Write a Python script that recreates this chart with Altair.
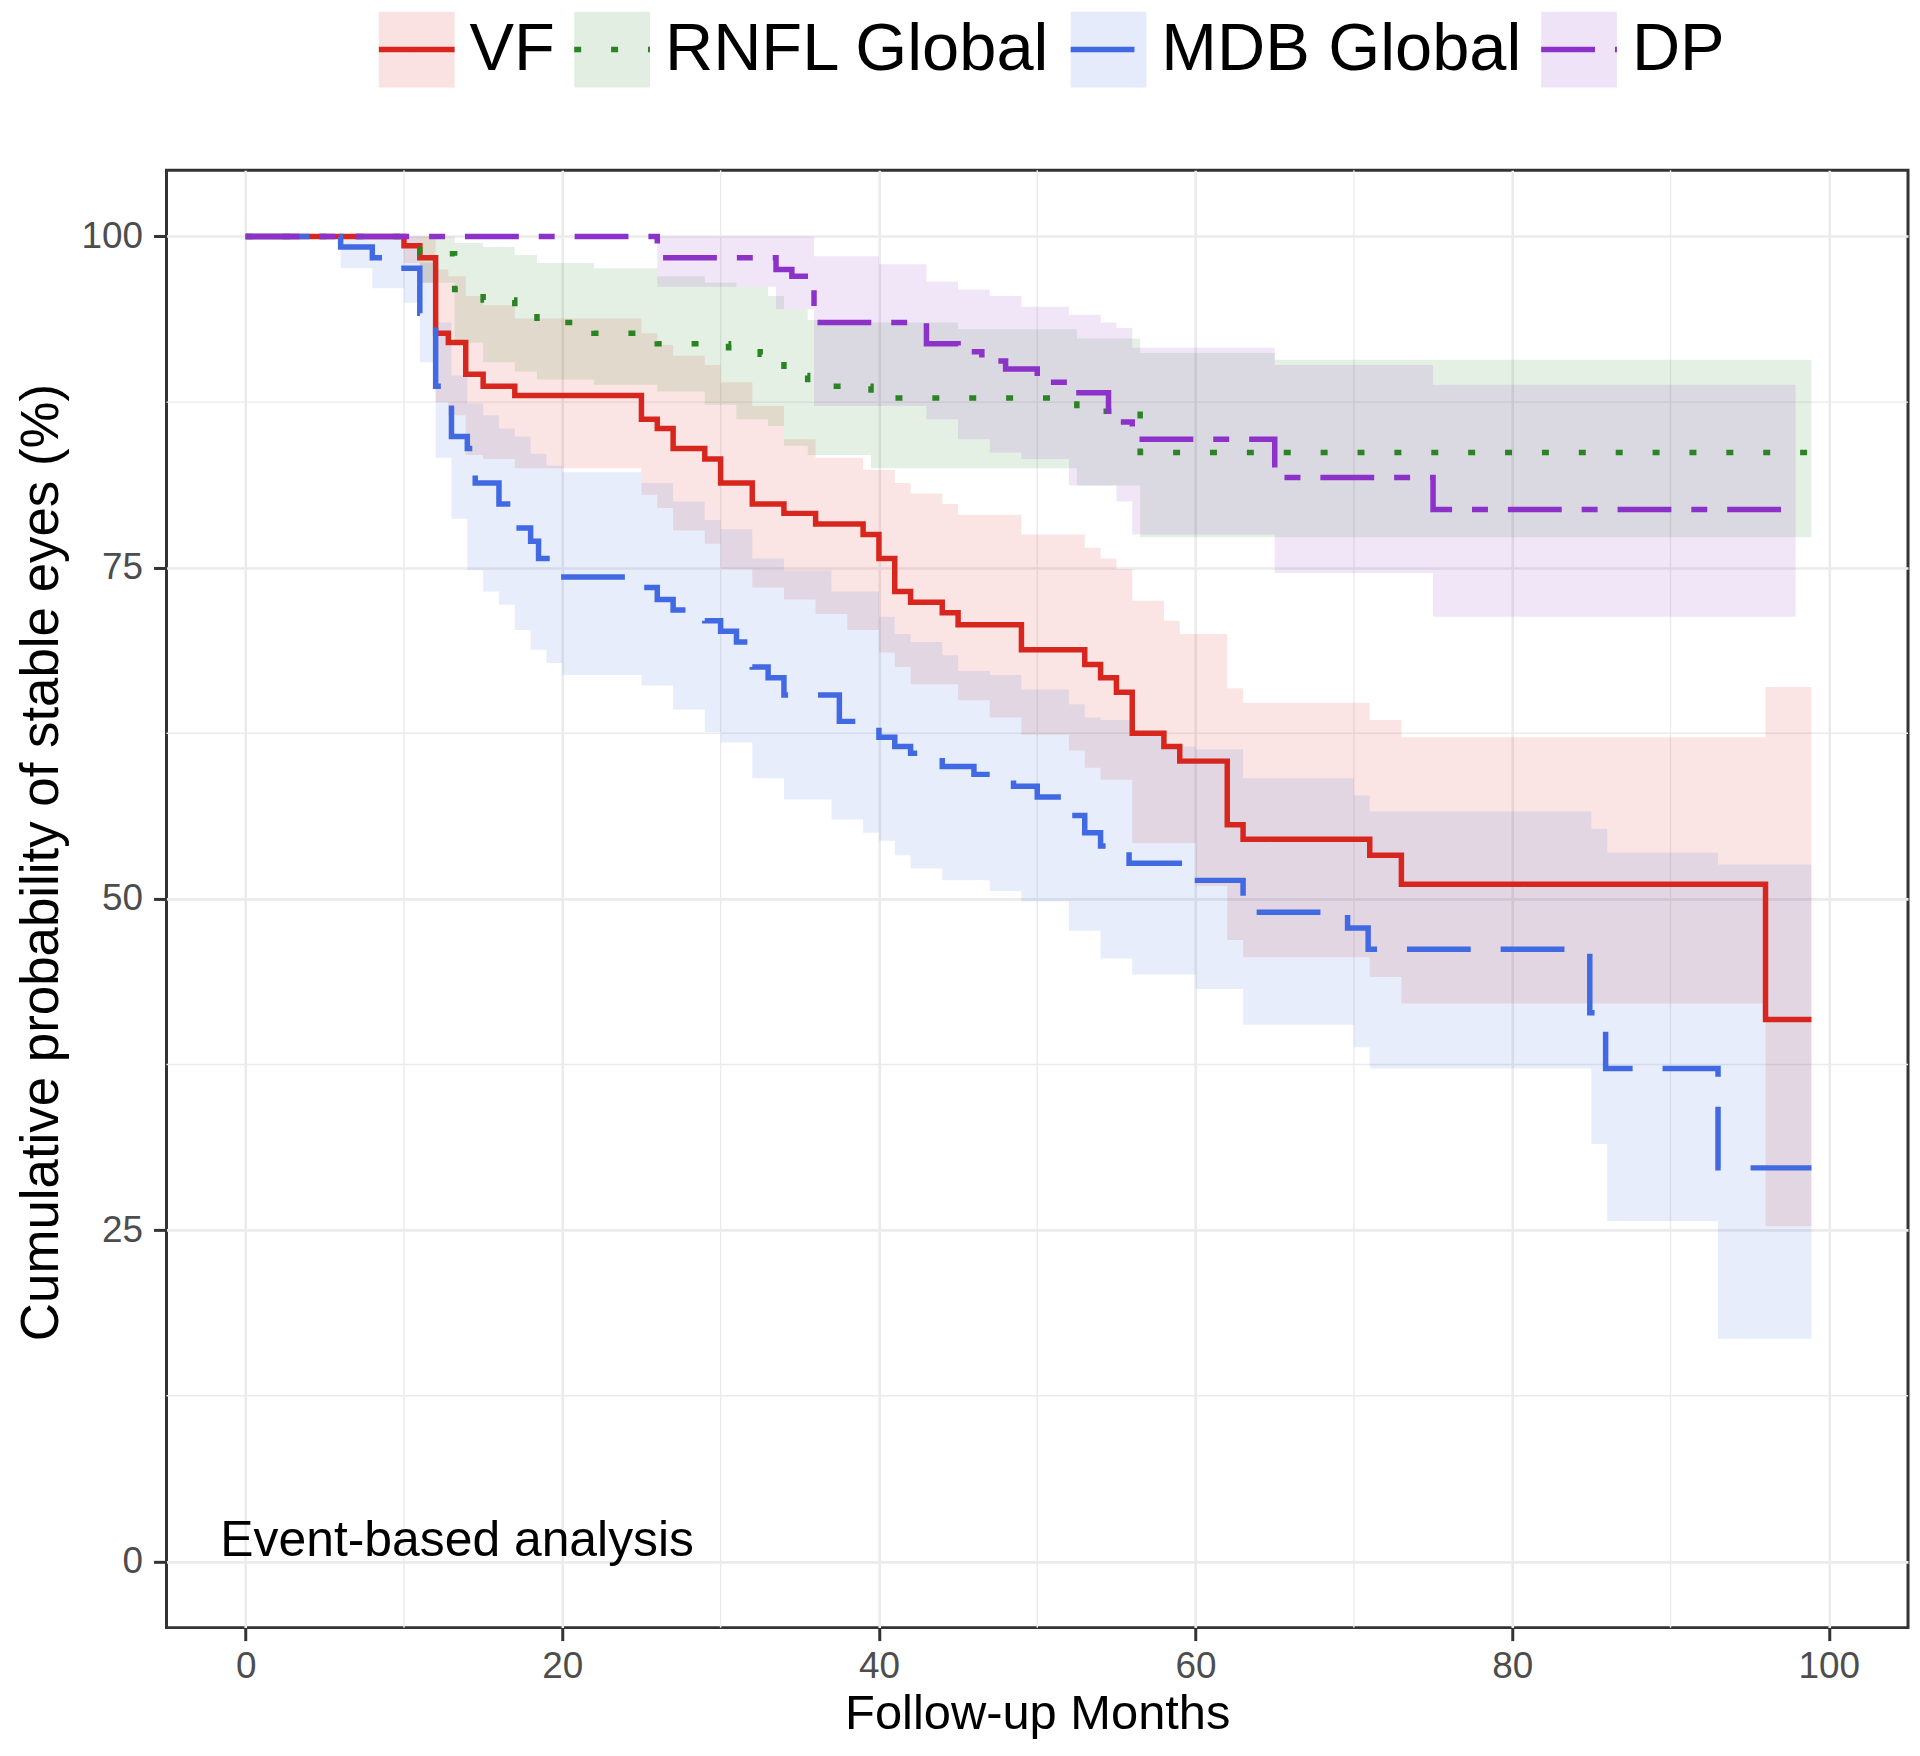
import altair as alt
import pandas as pd

# ---------------- data ----------------
series_names = ["VF", "RNFL Global", "MDB Global", "DP"]
line_colors = ["#D7261E", "#2A8423", "#4169E1", "#8C32C8"]
dash_patterns = [[1, 0], [7, 30], [64, 30], [54, 20, 16, 20]]

# VF (Kaplan-Meier step curve)
vf_x = [0, 10, 11, 12, 12.8, 13.9, 15, 17, 25, 26, 27, 29, 30, 32, 34, 36, 39, 40, 41, 42,
        44, 45, 49, 53, 54, 55, 56, 58, 59, 62, 63, 71, 73, 96, 98.9]
vf_y = [100, 99.3, 98.4, 92.7, 92.0, 89.6, 88.7, 88.0, 86.2, 85.5, 84.0, 83.2, 81.4, 79.8, 79.1,
        78.3, 77.5, 75.7, 73.2, 72.4, 71.6, 70.7, 68.8, 67.7, 66.7, 65.6, 62.5, 61.5, 60.4, 55.6,
        54.5, 53.3, 51.1, 40.9, 40.9]
vfb_x = [0, 10, 11, 12, 12.8, 13.9, 15, 17, 25, 26, 27, 29, 30, 32, 34, 36, 38, 39, 40, 41,
         42, 44, 45, 47, 49, 52, 53, 54, 55, 56, 58, 59, 60, 62, 63, 71, 73, 96, 98.9]
vfb_lo = [100, 98, 96.5, 87.5, 86.5, 83.5, 83.2, 82.5, 80.5, 79.5, 77.8, 76.8, 74.9, 73.5, 72.6,
          71.5, 70.3, 70.3, 68.6, 67.5, 66.2, 66.2, 65.0, 63.7, 62.4, 61.2, 59.9, 59.0, 59.0, 54.2,
          54.2, 54.2, 51.0, 46.9, 45.6, 44.1, 42.1, 25.3, 25.3]
vfb_hi = [100, 100, 100, 97.5, 97.0, 95.5, 94.8, 93.8, 92.7, 91.8, 91.0, 90.3, 89.0, 87.2, 84.7,
          83.3, 83.3, 82.4, 82.4, 81.4, 80.6, 79.8, 79.0, 79.0, 77.5, 77.5, 76.5, 75.7, 74.9, 72.5,
          71.0, 70.0, 70.0, 65.9, 64.8, 63.5, 62.2, 66.0, 66.0]

# RNFL Global
rn_x = [0, 11, 13.2, 15, 17, 18.4, 22, 26, 30.5, 32.5, 34, 35.5, 39.5, 52.5, 56.5, 98.9]
rn_y = [100, 98.7, 96.0, 95.2, 94.5, 93.5, 92.7, 91.9, 91.6, 91.1, 89.5, 88.7, 87.8, 86.8, 83.7, 83.7]
rnb_x = [0, 11, 13.2, 15, 17, 18.4, 22, 26, 29, 31, 33, 34, 35.5, 39.5, 45, 52.5, 56.5, 65, 98.9]
rnb_lo = [100, 96.5, 92.0, 90.5, 89.8, 89.2, 88.8, 88.3, 87.3, 86.2, 85.7, 84.2, 83.5, 82.5, 82.5,
          81.2, 77.3, 77.3, 77.3]
rnb_hi = [100, 100, 99.5, 99.2, 98.6, 98.0, 97.6, 97.0, 96.5, 96.2, 95.5, 94.5, 93.7, 93.5, 93.0,
          92.3, 91.2, 90.7, 90.7]

# MDB Global
mdb_x = [0, 6, 8, 10, 11, 12, 13, 14, 14.5, 16, 17, 18, 18.5, 19.8, 25, 26, 27, 29, 30, 31,
         32, 33, 34, 37.5, 40, 41, 42, 44, 46, 48.5, 50, 52, 53, 54, 55.8, 59.8, 63, 69.6, 70.9,
         84.9, 85.9, 93, 98.9]
mdb_y = [100, 99.2, 98.4, 97.6, 94.2, 88.7, 84.9, 84.0, 81.4, 79.8, 78.0, 77.0, 75.7, 74.3, 73.5,
         72.6, 71.8, 71.0, 70.2, 69.4, 67.5, 66.7, 65.4, 63.4, 62.2, 61.5, 61.0, 60.0, 59.4, 58.5,
         57.7, 56.3, 55.0, 54.0, 52.7, 51.4, 49.0, 47.8, 46.2, 41.4, 37.2, 29.7, 29.7]
mdbb_x = [0, 6, 8, 10, 11, 12, 13, 14, 15, 16, 17, 18, 19, 20, 25, 27, 29, 30, 32, 34,
          37, 39, 40, 41, 42, 44, 45, 47, 49, 52, 53, 54, 56, 58, 60, 63, 70, 71, 85, 86, 93, 98.9]
mdbb_lo = [100, 97.6, 96.1, 95.0, 90.5, 83.3, 78.7, 74.8, 73.2, 72.2, 70.3, 68.8, 67.8, 66.9, 66.1,
           64.3, 62.6, 61.8, 59.1, 57.5, 56.0, 55.0, 54.4, 53.3, 52.3, 51.4, 51.4, 50.6, 49.8, 47.6,
           47.6, 45.5, 44.3, 44.3, 43.2, 40.5, 38.8, 37.2, 31.5, 25.7, 16.8, 16.8]
mdbb_hi = [100, 100, 100, 100, 98.0, 93.5, 89.5, 87.4, 86.5, 85.5, 84.9, 83.6, 82.7, 82.2, 81.4,
           80.0, 78.6, 77.9, 75.7, 74.8, 73.2, 73.2, 71.3, 70.0, 69.4, 68.4, 67.2, 66.9, 65.8, 64.7,
           63.7, 63.5, 62.6, 61.5, 61.3, 59.1, 57.8, 56.6, 55.3, 53.5, 52.6, 52.6]

# DP
dp_x = [0, 26, 33.5, 34.5, 35.9, 43, 45, 46.5, 48, 50, 52, 54.5, 55, 56, 65, 75, 97.9]
dp_y = [100, 98.4, 97.5, 97.0, 93.5, 91.9, 91.3, 90.6, 90.0, 89.0, 88.2, 86.8, 86.0, 84.7, 81.8,
        79.4, 79.4]
dpb_x = [0, 26, 33.5, 35.9, 40, 43, 45, 47, 49, 52, 54, 55, 56, 65, 75, 97.9]
dpb_lo = [100, 96.2, 94.5, 87.2, 87.2, 86.2, 84.7, 83.7, 83.2, 81.2, 81.2, 80.0, 77.5, 74.6, 71.3, 71.3]
dpb_hi = [100, 100, 100, 98.5, 97.9, 96.6, 96.0, 95.5, 94.7, 94.1, 93.5, 93.1, 91.6, 90.3, 88.8, 88.8]

x_ticks = [0, 20, 40, 60, 80, 100]
y_ticks = [0, 25, 50, 75, 100]
x_minor = [10, 30, 50, 70, 90]
y_minor = [12.5, 37.5, 62.5, 87.5]

annot_text = "Event-based analysis"
annot_x = -1.6
annot_y = 0.4

# ---------------- tables ----------------
curves = [(series_names[0], vf_x, vf_y), (series_names[1], rn_x, rn_y),
          (series_names[2], mdb_x, mdb_y), (series_names[3], dp_x, dp_y)]
bands = [(series_names[0], vfb_x, vfb_lo, vfb_hi), (series_names[1], rnb_x, rnb_lo, rnb_hi),
         (series_names[2], mdbb_x, mdbb_lo, mdbb_hi), (series_names[3], dpb_x, dpb_lo, dpb_hi)]

lines_df = pd.concat([pd.DataFrame({"series": n, "month": xs, "surv": ys}) for n, xs, ys in curves],
                     ignore_index=True)
bands_df = pd.concat([pd.DataFrame({"series": n, "month": xs, "lo": lo, "hi": hi})
                      for n, xs, lo, hi in bands], ignore_index=True)
ann_df = pd.DataFrame({"month": [annot_x], "surv": [annot_y], "label": [annot_text]})
xminor_df = pd.DataFrame({"month": x_minor})
yminor_df = pd.DataFrame({"surv": y_minor})

FONT = "Liberation Sans"
x_scale = alt.Scale(domain=[-5, 105], nice=False, zero=False)
y_scale = alt.Scale(domain=[-5, 105], nice=False, zero=False)

x_axis = alt.Axis(values=x_ticks, format="d", title="Follow-up Months", grid=True,
                  gridColor="#EBEBEB", gridWidth=2.6, domain=False, tickSize=13, tickWidth=3,
                  tickColor="#333333", labelFontSize=37, labelColor="#4D4D4D", labelPadding=8,
                  labelFont=FONT, titleFont=FONT, titleFontSize=49, titleFontWeight="normal",
                  titleColor="black", titleY=101, titleBaseline="alphabetic", labelFlush=False)
y_axis = alt.Axis(values=y_ticks, format="d", title="Cumulative probability of stable eyes (%)",
                  grid=True, gridColor="#EBEBEB", gridWidth=2.6, domain=False, tickSize=13,
                  tickWidth=3, tickColor="#333333", labelFontSize=37, labelColor="#4D4D4D",
                  labelPadding=11, labelFont=FONT, titleFont=FONT, titleFontSize=53,
                  titleFontWeight="normal", titleColor="black", titleAngle=270,
                  titleX=-109, titleY=694, titleBaseline="alphabetic", titleAlign="center",
                  labelFlush=False)

LEG_X = 210
LEG_Y = -162
common_leg = dict(title=None, orient="none", legendX=LEG_X, legendY=LEG_Y, direction="horizontal",
                  symbolSize=5776, symbolStrokeWidth=5.5, labelFontSize=67, labelFont=FONT,
                  labelColor="black", labelOffset=12, columnPadding=8, labelLimit=800, padding=0)
fill_legend = alt.Legend(symbolType="square", symbolOpacity=0.13,
                         symbolStrokeColor="transparent", **common_leg)
line_legend = alt.Legend(symbolType="stroke", labelOpacity=0, **common_leg)

minor_x = alt.Chart(xminor_df).mark_rule(color="#EBEBEB", strokeWidth=1.4).encode(
    x=alt.X("month:Q", scale=x_scale, axis=x_axis))
minor_y = alt.Chart(yminor_df).mark_rule(color="#EBEBEB", strokeWidth=1.4).encode(
    y=alt.Y("surv:Q", scale=y_scale, axis=y_axis))

band_layer = alt.Chart(bands_df).mark_area(interpolate="step-after", fillOpacity=0.12,
                                           strokeWidth=0).encode(
    x=alt.X("month:Q", scale=x_scale, axis=x_axis),
    y=alt.Y("lo:Q", scale=y_scale, axis=y_axis),
    y2="hi:Q",
    fill=alt.Fill("series:N", scale=alt.Scale(domain=series_names, range=line_colors),
                  legend=fill_legend),
)

line_layer = alt.Chart(lines_df).mark_line(interpolate="step-after", strokeWidth=5.5,
                                           strokeCap="butt").encode(
    x=alt.X("month:Q", scale=x_scale, axis=x_axis),
    y=alt.Y("surv:Q", scale=y_scale, axis=y_axis),
    stroke=alt.Stroke("series:N", scale=alt.Scale(domain=series_names, range=line_colors),
                      legend=line_legend),
    strokeDash=alt.StrokeDash("series:N", scale=alt.Scale(domain=series_names, range=dash_patterns),
                              legend=line_legend),
)

ann_layer = alt.Chart(ann_df).mark_text(align="left", baseline="alphabetic", fontSize=50,
                                        font=FONT, color="black").encode(
    x=alt.X("month:Q", scale=x_scale, axis=x_axis),
    y=alt.Y("surv:Q", scale=y_scale, axis=y_axis),
    text="label:N",
)

chart = alt.layer(minor_x, minor_y, band_layer, line_layer, ann_layer).resolve_legend(
    fill="independent", stroke="independent", strokeDash="independent"
).properties(
    width=1747, height=1462,
    padding={"left": 159, "top": 160, "right": 4, "bottom": 110},
    autosize=alt.AutoSizeParams(type="none"),
    background="white",
).configure(font=FONT).configure_view(stroke="#333333", strokeWidth=3)

chart.save("out.html", embed_options={"renderer": "svg", "actions": False})
